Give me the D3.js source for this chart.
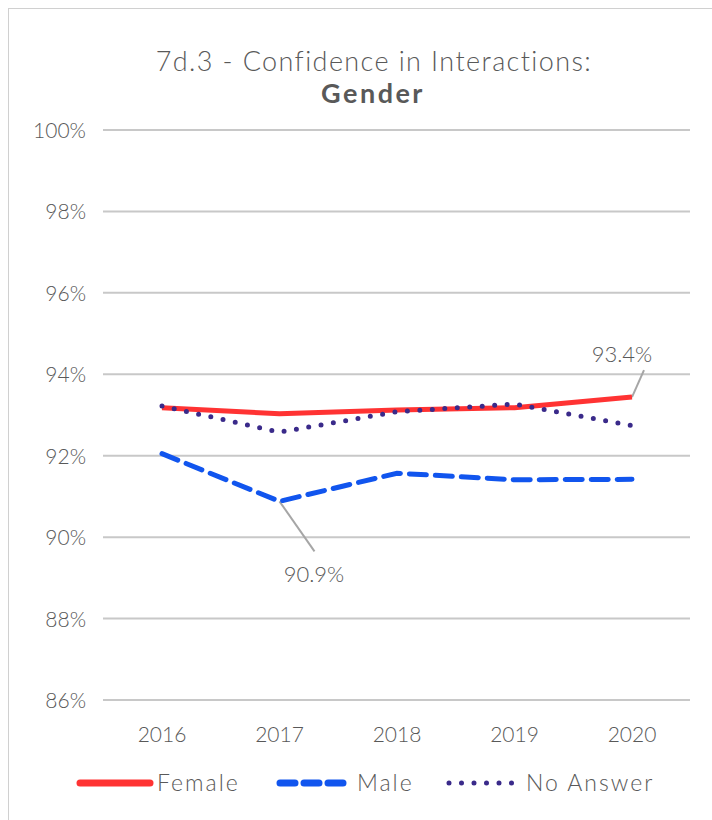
<!DOCTYPE html>
<html><head><meta charset="utf-8">
<script src="https://cdn.jsdelivr.net/npm/d3@7"></script>
<style>body{margin:0;background:#fff}svg{display:block}text{font-family:Lato,"Open Sans",sans-serif;fill:#595959}</style>
</head><body>
<svg id="c" width="712" height="820"></svg>
<script>
const years = ["2016","2017","2018","2019","2020"];
const female = [93.18, 93.03, 93.12, 93.18, 93.44];
const male = [92.05, 90.88, 91.57, 91.41, 91.42];
const noAnswer = [93.22, 92.58, 93.08, 93.27, 92.74];
const yTicks = [86, 88, 90, 92, 94, 96, 98, 100];
const seriesNames = ["Female", "Male", "No Answer"];

const svg = d3.select("#c");
svg.append("rect").attr("x",8.5).attr("y",8.5).attr("width",712).attr("height",820).attr("fill","none").attr("stroke","#d0d0d0");

const x = d3.scalePoint().domain(years).range([162, 632]);
const y = d3.scaleLinear().domain([86, 100]).range([700, 130]);

// title
svg.append("text").attr("x",374).attr("y",71).attr("text-anchor","middle").attr("font-size",27).style("font-weight",300).style("letter-spacing","1.4px").text("7d.3 - Confidence in Interactions:");
svg.append("text").attr("x",373).attr("y",103).attr("text-anchor","middle").attr("font-size",27).style("font-weight",700).style("letter-spacing","2.5px").text("Gender");

// grid
const g = svg.append("g");
g.selectAll("line.grid").data(yTicks).join("line")
  .attr("x1",103).attr("x2",690).attr("y1",d=>y(d)).attr("y2",d=>y(d))
  .attr("stroke","#c8c8c8").attr("stroke-width",2);
g.selectAll("text.yl").data(yTicks).join("text")
  .attr("x",86).attr("y",d=>y(d)+8).attr("text-anchor","end").attr("font-size",21).style("font-weight",300)
  .text(d=>d+"%");
g.selectAll("text.xl").data(years).join("text")
  .attr("x",d=>x(d)).attr("y",742).attr("text-anchor","middle").attr("font-size",21).style("font-weight",300)
  .text(d=>d);

const line = d3.line().x((d,i)=>x(years[i])).y(d=>y(d));

// leader lines + labels
function label(val, yr, dx, dy, tx, ty){
  const px = x(yr), py = y(val);
  svg.append("line").attr("x1",px).attr("y1",py).attr("x2",px+dx).attr("y2",py+dy).attr("stroke","#a6a6a6").attr("stroke-width",2);
  svg.append("text").attr("x",tx).attr("y",ty).attr("text-anchor","middle").attr("font-size",22).style("font-weight",300).text(val.toFixed(1)+"%");
}
label(male[1], "2017", 35, 50, 314, 582);
label(female[4], "2020", 12, -27, 622, 362);

svg.append("path").attr("d",line(female)).attr("fill","none").attr("stroke","#FF3333").attr("stroke-width",5).attr("stroke-linejoin","round");
svg.append("path").attr("d",line(male)).attr("fill","none").attr("stroke","#1155EE").attr("stroke-width",5).attr("stroke-dasharray","17,9").attr("stroke-linecap","round");
svg.append("path").attr("d",line(noAnswer)).attr("fill","none").attr("stroke","#3A2A8A").attr("stroke-width",5).attr("stroke-dasharray","0,12.5").attr("stroke-linecap","round");

// legend
const leg = [{n:seriesNames[0],x:80,c:"#FF3333",da:null},{n:seriesNames[1],x:280,c:"#1155EE",da:"15,9"},{n:seriesNames[2],x:449,c:"#3A2A8A",da:"0,12.5"}];
leg.forEach(l=>{
  svg.append("line").attr("x1",l.x).attr("x2",l.x+70).attr("y1",783).attr("y2",783).attr("stroke",l.c).attr("stroke-width",l.da&&l.da.startsWith("0")?5:7).attr("stroke-linecap","round").attr("stroke-dasharray",l.da);
  svg.append("text").attr("x",l.x+77).attr("y",791).attr("font-size",23).style("font-weight",300).style("letter-spacing","2px").text(l.n);
});
</script>
</body></html>
